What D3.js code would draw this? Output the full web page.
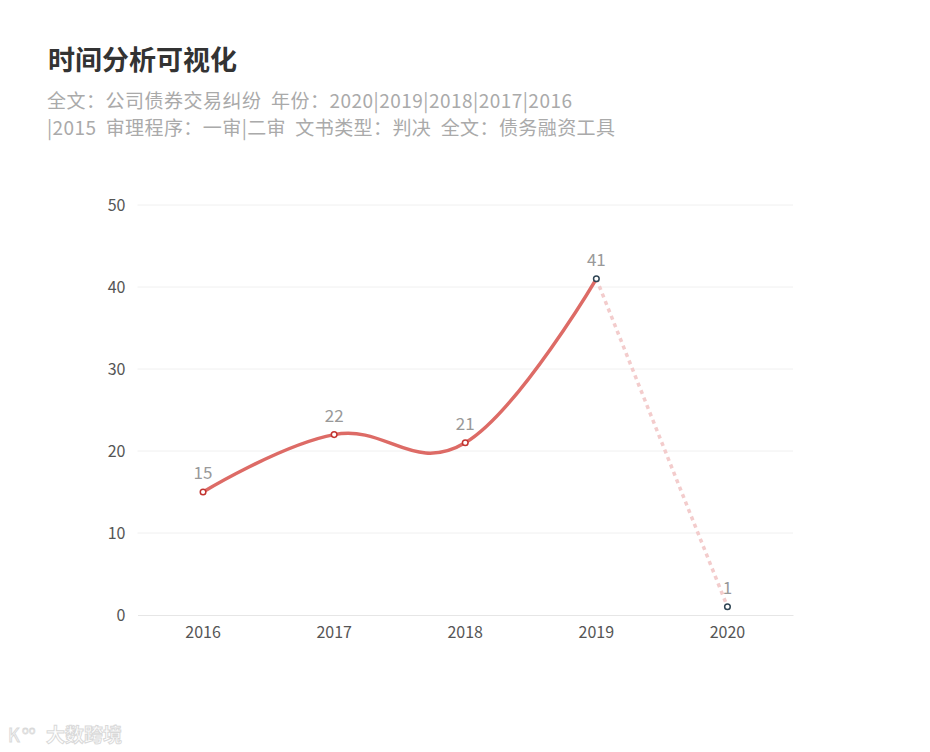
<!DOCTYPE html>
<html><head><meta charset="utf-8">
<script src="https://cdn.jsdelivr.net/npm/d3@7/dist/d3.min.js"></script>
<style>body{margin:0;background:#fff;}svg{display:block;font-family:"Noto Sans CJK SC","Noto Sans",sans-serif;}</style>
</head><body><svg id="c" width="930" height="752"></svg>
<script>
const years = ["2016","2017","2018","2019","2020"];
const counts = [15, 22, 21, 41, 1];
const yTicks = [0, 10, 20, 30, 40, 50];
const titleText = "时间分析可视化";
const subtitleLines = ["全文：公司债券交易纠纷  年份：2020|2019|2018|2017|2016", "|2015  审理程序：一审|二审  文书类型：判决  全文：债务融资工具"];
const subtitleWidths = [525, 568];

const svg = d3.select("#c");
const x = d3.scaleBand().domain(years).range([137.5, 793]);
const y = d3.scaleLinear().domain([0, 50]).range([615, 205]);
const cx = d => x(d) + x.bandwidth()/2;

svg.append("text").attr("x", 48).attr("y", 70).attr("font-size", 27).attr("font-weight", "bold").attr("fill", "#333").text(titleText);
subtitleLines.forEach((t,i) => svg.append("text").attr("x", 47).attr("y", 108 + i*27)
  .attr("font-size", 19).attr("fill", "#aaa").style("white-space", "pre")
  .attr("textLength", subtitleWidths[i]).attr("lengthAdjust", "spacing").text(t));

// grid
svg.append("g").selectAll("line").data(yTicks.slice(1)).join("line")
  .attr("x1", 137.5).attr("x2", 793).attr("y1", d => y(d)).attr("y2", d => y(d))
  .attr("stroke", "#f0f0f0").attr("stroke-width", 1);

const yAxis = svg.append("g").attr("transform", "translate(137.5,0)")
  .call(d3.axisLeft(y).tickValues(yTicks).tickSize(0).tickPadding(12));
yAxis.select(".domain").remove();
yAxis.selectAll("text").attr("font-size", 16).attr("fill", "#555").attr("font-family", "'Noto Sans CJK SC','Noto Sans',sans-serif");

const xAxis = svg.append("g").attr("transform", "translate(0,615)")
  .call(d3.axisBottom(x).tickSize(0).tickPadding(12));
xAxis.select(".domain").attr("stroke", "#e6e6e6");
xAxis.selectAll("text").attr("font-size", 16).attr("fill", "#555").attr("font-family", "'Noto Sans CJK SC','Noto Sans',sans-serif");

const pts = years.map((yr,i) => [cx(yr), y(counts[i])]);
// dotted segment 2019-2020
svg.append("path").attr("d", d3.line()(pts.slice(3)))
  .attr("fill", "none").attr("stroke", "#f3cccc").attr("stroke-width", 3.5).attr("stroke-dasharray", "4,4");
// smooth solid line
svg.append("path").attr("d", d3.line().curve(d3.curveCardinal.tension(-0.2))(pts.slice(0,4)))
  .attr("fill", "none").attr("stroke", "#dd6b66").attr("stroke-width", 3.5);

svg.append("g").selectAll("circle").data(pts).join("circle")
  .attr("cx", d => d[0]).attr("cy", d => d[1]).attr("r", 2.8)
  .attr("fill", "#fff").attr("stroke", (d,i) => i < 3 ? "#c23531" : "#2f4554").attr("stroke-width", 1.5);

svg.append("g").selectAll("text").data(pts).join("text")
  .attr("x", d => d[0]).attr("y", d => d[1] - 13).attr("text-anchor", "middle")
  .attr("font-size", 17).attr("fill", "#999").text((d,i) => counts[i]);

// watermark
const wm = svg.append("g").attr("opacity", 0.55);
wm.append("text").attr("x", 8).attr("y", 742).attr("font-size", 18).attr("fill", "#fff").attr("stroke", "#bbb").attr("stroke-width", 1).text("K");
wm.append("text").attr("x", 22).attr("y", 734).attr("font-size", 11).attr("fill", "#fff").attr("stroke", "#bbb").attr("stroke-width", 0.8).text("oo");
wm.append("text").attr("x", 46).attr("y", 742).attr("font-size", 19).attr("font-weight", "bold").attr("fill", "#fff").attr("stroke", "#bbb").attr("stroke-width", 1).text("大数跨境");
</script></body></html>
